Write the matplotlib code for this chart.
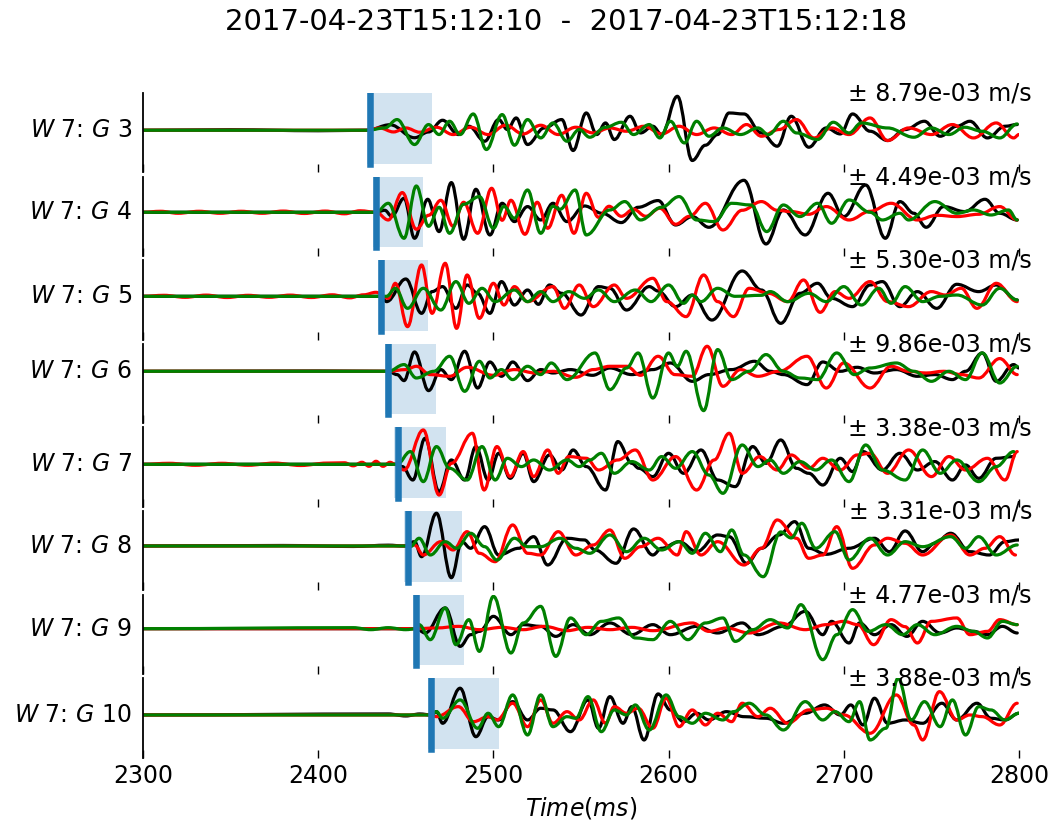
import matplotlib
matplotlib.use("Agg")
import matplotlib.pyplot as plt
from matplotlib.path import Path
from matplotlib.patches import PathPatch
import matplotlib.transforms as mtransforms

title_text = "2017-04-23T15:12:10  -  2017-04-23T15:12:18"
geophones = [3, 4, 5, 6, 7, 8, 9, 10]
scale_labels = ["8.79e-03", "4.49e-03", "5.30e-03", "9.86e-03",
                "3.38e-03", "3.31e-03", "4.77e-03", "3.88e-03"]
pick_times = [2429.6, 2433, 2436, 2440, 2445.5, 2451, 2456, 2464.5]
window_start = [2428, 2431, 2434, 2438, 2443.5, 2449, 2454, 2462.5]
window_end = [2465, 2459.6, 2462.6, 2467.5, 2473, 2482, 2483, 2503]
xticks = [2300, 2400, 2500, 2600, 2700, 2800]

# (time ms, normalised amplitude) extrema
g3_black = [(2300,0),(2350,0.5),(2400,-0.5),(2428,0),(2441,5.5),(2455,-7.5),(2463,-1.7),(2471,10),(2480,-4.3),(2486,4),(2495,-11),(2503,10.7),(2508,0.7),(2513,12.3),(2519.5,-14.3),(2529,2.3),(2539,10.7),(2545.5,-20.3),(2553,17.3),(2559,-4.3),(2564,7.3),(2569,-9.3),(2578,14),(2584,-2.7),(2591,4),(2596,-4.3),(2605,34),(2613.5,-30.3),(2621,-15),(2628,-4.3),(2634.5,17.3),(2643,16.3),(2653,-2.7),(2662,-16),(2670,14),(2680,-17),(2690,2.3),(2698,-3.7),(2705,16.3),(2715,-1),(2725,-10.3),(2735,0.7),(2746,9),(2755,-6),(2764.5,4),(2772,9),(2782,-7.7),(2792,4),(2799,5.7)]
g3_red = [(2300,0),(2428,0),(2435,2.3),(2443,-1.7),(2450,2.3),(2458,-2),(2467.5,3),(2477,-4.3),(2487,3),(2497,-4.3),(2507,5),(2517,-3.7),(2527,5),(2537,-4.3),(2547,3),(2557,-2.7),(2566.5,2.3),(2576,-1),(2586,4),(2596,-3.7),(2606,4),(2616,-4.3),(2626,2.3),(2636,-4.3),(2644.5,5.7),(2653,-6),(2663,0.7),(2673,10.7),(2683,-7.7),(2693,2.3),(2703,-4.3),(2715,12.3),(2725,-10.3),(2737,2.3),(2750,-4.3),(2762,5.7),(2774,-7.7),(2787,7.3),(2797,-7.7),(2800,-4.3)]
g3_green = [(2300,0),(2428,0),(2438,2.3),(2445,10.7),(2455,-14.3),(2463,5.7),(2469,-4.3),(2475,9),(2481,-4.3),(2488.5,16.3),(2496,-19.3),(2505,15.7),(2512,-15),(2519.5,10.7),(2527,-7.7),(2534,7.3),(2542,-11),(2549,0.7),(2555,-7),(2564,3),(2573,8),(2580,-4.3),(2589,5.7),(2595,-7.7),(2601,9),(2609,-12.7),(2616,9),(2623,-6),(2631,2.3),(2641,-4.3),(2651,2.3),(2657,-4.3),(2665.5,9),(2673,-2.7),(2685,-9.3),(2694,8),(2703,-2.7),(2710,7.3),(2725,2.3),(2740,-7),(2750,2.3),(2760,-4.3),(2769,3),(2779,-1),(2789,-7.7),(2799,6.3)]

g4_black = [(2300,0),(2433,0),(2438,2),(2442,-4),(2449,14),(2455,-26),(2462.5,13),(2469,-19.3),(2476,29.7),(2483,-27),(2490,23),(2498,-22.7),(2505,9),(2512,-9.3),(2519.5,5.7),(2527,-7.7),(2534,9),(2542,-9.3),(2552,6.3),(2562,-1),(2573,-10.3),(2582.6,5),(2594,11.7),(2604,-12.7),(2613.5,-4.3),(2623,-15),(2643,32),(2655.6,-31.7),(2665.5,2.3),(2678,-22.7),(2691,19),(2700,-4.3),(2712.5,27.3),(2723.7,-26),(2732,10.7),(2740,-1),(2747,-15),(2757,5.7),(2769,0.7),(2780.6,13),(2789,-1),(2799,-7.7)]
g4_red = [(2300,0),(2310,1),(2320,-1),(2332,1),(2344,-1),(2356,1),(2368,-1),(2380,1.2),(2392,-1.2),(2404,1.2),(2415,-1.5),(2424,1.5),(2433,0),(2440,-7.7),(2448,19.7),(2456,-17),(2463,-3),(2470,12),(2477,-14),(2483,10),(2491,-21),(2499,24),(2505,-8),(2510,12),(2518,-22),(2525,10),(2531,-16),(2539,17),(2546,-21),(2553,19),(2560,-5),(2566,6),(2573,-4),(2580,3),(2587,-4),(2595,4),(2604,-12),(2612,-4),(2621,9),(2631,-17.7),(2642,2),(2653,10.7),(2662,2),(2670,0.7),(2680,-2),(2690,5.7),(2703,-7.7),(2715,1),(2727,9),(2742,-7.7),(2753,-3),(2764.5,-4.3),(2777,-2),(2789,5.7),(2799,-7.7)]
g4_green = [(2300,0),(2433,0),(2440,9),(2449,-26),(2456,26.3),(2463,-14),(2469,5),(2475,-21),(2483,8),(2492,15.7),(2500,-16),(2506,6),(2512,-6),(2519.5,22.3),(2527,-21),(2534,6),(2538,3),(2546.7,22.3),(2553,-22.7),(2566.5,2.3),(2575,10.7),(2584,-7.7),(2596,5),(2606,15.7),(2616,-7.7),(2626,-9.3),(2636,9),(2647,7.3),(2656,-19.3),(2665.5,7.3),(2675,-4.3),(2685,9),(2693,-11),(2703,12.3),(2715,0),(2722,-7.7),(2732,-1),(2737,-7.7),(2752,10.7),(2764.5,-1),(2774,2.3),(2784,-2.7),(2794,2.3),(2799,-7.7)]

g5_black = [(2300,0),(2436,0),(2439,-5.3),(2450,17.3),(2459,-17),(2465,4.7),(2471,9.7),(2478.6,-12),(2485,11.3),(2491,3),(2498,-17),(2504.6,14.7),(2512,-8.7),(2519.5,6.3),(2525.7,-8),(2532,11.3),(2539,3),(2550,-18.7),(2560,9.7),(2566.5,8),(2576,-13.7),(2589,9.7),(2594,5.3),(2604,-10.3),(2613.5,1.3),(2624.7,-23.7),(2642,25.3),(2653,6.3),(2664,-27),(2675,3),(2685,13),(2693,-2),(2705,-10.3),(2715,11.3),(2722,14.7),(2732,-10.3),(2742,4.7),(2753,-12),(2764.5,12),(2777,4.7),(2787,11.3),(2799,-3.7)]
g5_red = [(2300,0),(2312,1),(2324,-1),(2336,1.2),(2348,-1.2),(2360,1),(2372,-1),(2384,1.2),(2396,-1.2),(2408,1.5),(2418,-1.5),(2426,1.5),(2433,4),(2440,-2),(2444,13),(2451,-30.3),(2459,31.3),(2465,-17),(2472.5,33),(2479,-32),(2485,21.3),(2492,-22),(2500,13),(2506,-8.7),(2512,9.7),(2519.5,-5.3),(2534,9.7),(2540.5,-12),(2549,11.3),(2557,-10.3),(2569,11.3),(2576,-2),(2591,18),(2599,-5.3),(2610,-20.3),(2620,21.3),(2628,-5.3),(2637,-20.3),(2646,8),(2657,3),(2668,-5.3),(2677,16.3),(2686.5,-16),(2695,4.7),(2703,-2),(2715,14.7),(2725,-5.3),(2737,-10.3),(2750,4.7),(2758,1.3),(2767,8),(2776,-12),(2787,13),(2799,-5.3)]
g5_green = [(2300,0),(2439,0),(2444,8),(2451,-12),(2460,8),(2470,-13.7),(2478.6,14.7),(2486,-7),(2493.5,8),(2501,-5.3),(2512,6.3),(2519.5,-5.3),(2527,4.7),(2534,-5.3),(2543,4.7),(2552,-2),(2560,6.3),(2569,-5.3),(2581,6.3),(2590,-5.3),(2600,11.3),(2608.6,-7),(2613.5,1),(2618.5,-5.3),(2628,8),(2638,0),(2653,1),(2658,4.7),(2668,-5.3),(2680,3),(2690,-5.3),(2700,9.7),(2710,-8.7),(2720,8),(2727,-7),(2735,9.7),(2745,-5.3),(2755,0),(2764.5,1.3),(2779,-8.7),(2789,8),(2799,-3.7)]

g6_black = [(2300,0),(2400,0.3),(2440,0),(2445,-3.3),(2449,-9.3),(2455,19.3),(2463,-19.3),(2470,1.7),(2476,-8.3),(2483.6,20),(2491,-16.7),(2498,9.3),(2504.6,-5),(2511,9.3),(2519.5,-9.3),(2527,1.7),(2534,-1.7),(2544,1.7),(2556.6,-4),(2566.5,3.3),(2579,-3.3),(2591,1.7),(2601,8.3),(2613.5,-10),(2623,-3.3),(2636,1.7),(2649,10),(2658,0),(2665.5,-3.3),(2679,-13.3),(2688,9.3),(2698,0),(2707.6,4),(2717.5,-1.7),(2730,1.7),(2742,-5),(2752,-3.3),(2762,-8.3),(2769.5,0),(2779,18.3),(2787,-10),(2797,6.7),(2800,3.3)]
g6_red = [(2300,0),(2440,0),(2450,1.7),(2456,5),(2464,-3.3),(2475,-5),(2485,4),(2500,-4),(2512,1.7),(2524,-1.7),(2534,0),(2547,-6),(2557,1.7),(2566.5,5),(2576,5),(2584,-4),(2594,15),(2603.6,-3.3),(2613.5,-5),(2622,25),(2631,-15),(2641,1.7),(2651,-5),(2663,0),(2679,15),(2690,-16.7),(2700,8.3),(2715,-16.7),(2727,5),(2737,0),(2747,-1.7),(2757,0),(2767,-3.3),(2777,-6.7),(2789,12.7),(2799,-3.3)]
g6_green = [(2300,0),(2440,0),(2449,6.7),(2456,-6.7),(2466,0),(2475,15),(2483.6,-20),(2492,10),(2498,-6.7),(2504.6,1.7),(2511,-8.3),(2519.5,5),(2527,-3.3),(2533,8.3),(2542,-8.3),(2558,18.3),(2566.5,-18.3),(2576,3.3),(2582.6,18.3),(2591,-26.7),(2600,18.3),(2605,5),(2610,20),(2620,-39.3),(2628,21.7),(2636,-8.3),(2646,0),(2655.6,16.7),(2665.5,0),(2675,-6.7),(2685,-8.3),(2696,18.3),(2706,-3.3),(2715,3.3),(2730,8.3),(2740,0),(2750,-10),(2760,0),(2769.5,-8.3),(2779,18.3),(2789,-11.7),(2799,5)]

g7_black = [(2300,0),(2445,0),(2448,-2.3),(2454,-15.7),(2461,26),(2469,-27.3),(2476,4.3),(2483.6,-15.7),(2490,17.7),(2497,-15.7),(2503,11),(2509.6,-14),(2517,11),(2523,-17.3),(2532,9.3),(2539,-5.7),(2545.5,14.3),(2553,-2.3),(2564,-25.7),(2571,22.7),(2579,1),(2583,-4),(2591,-12.3),(2600,11),(2608.6,-9),(2618.5,14.3),(2628,-15.7),(2638,-22.3),(2648,17.7),(2655.6,1),(2664,24.3),(2673,-4),(2680,-9),(2688,-20.7),(2698,6),(2705,-7.3),(2711,12.7),(2722,-5.7),(2732,11),(2742,-5.7),(2752,2.7),(2762,-15.7),(2769.5,-0.7),(2777,-14),(2787,6),(2797,7.7)]
g7_red = [(2300,0),(2315,1),(2330,-1),(2345,1),(2360,-1),(2375,1.2),(2390,-1.2),(2405,1.2),(2415,1.5),(2420,-1.5),(2425,2),(2429,-2),(2433,3),(2437,-2),(2441,2),(2444,0),(2449,-5.7),(2460,34.3),(2469,-30.7),(2476,1),(2488,31),(2494.7,-25.7),(2502,17.7),(2509.6,-12.3),(2517,12.7),(2523,-12.3),(2531,14.3),(2537,-9),(2543,7.7),(2553,6),(2560,-5.7),(2571,4.3),(2581,14.3),(2591,-15.7),(2604,7.7),(2616,-25.7),(2626,4.3),(2634.6,31),(2642,-9),(2652,7.7),(2662,-5.7),(2670,9.3),(2680,-4),(2688,6),(2698,-5.7),(2707.6,9.3),(2715,11),(2725,-9),(2737,14.3),(2750,-12.3),(2760,7.7),(2769.5,-5.7),(2782,6),(2792,-15.7),(2799,12.7)]
g7_green = [(2300,0),(2445,0),(2452.6,12.7),(2460,-17.3),(2467.5,17.7),(2475,-4),(2485,-15.7),(2493.5,17.7),(2501,-15.7),(2508,6),(2516,-2.3),(2523,4.3),(2532,-5.7),(2542,4.3),(2549,-2.3),(2555,4.3),(2561.6,11),(2569,-9),(2579,2.7),(2589,-5.7),(2596,7.7),(2604,-4),(2613.5,12.7),(2623,-10.7),(2631,-29),(2642,19.3),(2651,-2.3),(2658,4.3),(2665.5,-9),(2675,2.7),(2684,-5.7),(2693,4.3),(2703,-17.3),(2712.5,19.3),(2722,-5.7),(2735,-15.7),(2745,14.3),(2755,-9),(2764.5,4.3),(2777,-17.3),(2787,-2.3),(2797,12.7)]

g8_black = [(2300,0),(2380,0.5),(2420,-0.5),(2440,0.8),(2449,0),(2455,4.3),(2459,-10.7),(2467.5,32.7),(2476,-31.7),(2482,4.3),(2487,-2.3),(2495,19.3),(2503,-9),(2514.5,-2.3),(2523,9.3),(2531,-19),(2542,7.7),(2552,6),(2558,-4),(2570,-17.3),(2580,17),(2591,-9),(2596,-2.3),(2606,4.3),(2616,-5.7),(2628,11),(2634.6,9.3),(2644.5,-17.3),(2653,-2.3),(2663,11),(2672,24.3),(2680,-2.3),(2690,-8.3),(2703,-2.3),(2717.5,7.7),(2726,-5.7),(2735,15),(2745,-5.7),(2752,2.7),(2761,12.7),(2772,-5.7),(2783,-9),(2792,4.3),(2800,6)]
g8_red = [(2300,0),(2449,0),(2455,1),(2460,-9),(2470,4.3),(2477,-4),(2485,14.3),(2492,-7.3),(2501,-15.7),(2511,21),(2519.5,-7.3),(2527,-9),(2537,14.3),(2547,-9),(2557,1),(2566.5,16),(2575,-12.3),(2584,-0.7),(2594,7.7),(2605,-9),(2610,14.3),(2618.5,-9),(2628,4.3),(2643,-19),(2653,-2.3),(2662,26),(2673,7.7),(2680,-12.3),(2688,-9),(2696,19.3),(2705,-22.3),(2717.5,1),(2725,7.7),(2735,2.7),(2745,-9),(2761,11),(2772,-9),(2780.6,-2.3),(2789,9.3),(2798,-9)]
g8_green = [(2300,0),(2449,0),(2452.6,-0.7),(2457.6,7.7),(2464,-9),(2472.5,4.3),(2479,-2.3),(2487,12.7),(2495,-0.7),(2502,-14),(2512,7.7),(2519.5,-0.7),(2527,-0.7),(2538,7.7),(2547,-2.3),(2555,-7.3),(2566.5,11),(2576,-5.7),(2586,7.7),(2596,-4),(2606,4.3),(2613.5,-7.3),(2621,12.7),(2629.6,-5.7),(2636,16),(2643,-9),(2654,-30.7),(2664,14),(2670,8),(2676,22.7),(2684,-2.3),(2695,14.3),(2703,-14),(2715,7.7),(2725,-9),(2735,4.3),(2745,-0.7),(2761,9.3),(2769.5,-2.3),(2777,9.3),(2787,-9),(2799,1)]

g9_black = [(2300,0),(2456,0),(2461,-4.3),(2472.5,20.7),(2481,-17.7),(2487,-6),(2492,-2.7),(2500,12.3),(2510,-6),(2517,4),(2527,2.3),(2535.6,-7.7),(2545.5,4),(2555,-6),(2566.5,5.7),(2579,-6),(2591,4),(2601,-6),(2616,2.3),(2628,-4.3),(2642,5.7),(2651,-6),(2665.5,2.3),(2678,17.3),(2688,-6),(2693,7.3),(2703,-14.3),(2709,5.7),(2717.5,-6),(2727,4),(2736,-7.7),(2745,7.3),(2755,-4.3),(2764.5,0.7),(2774,-2.7),(2782,-6),(2790.5,2.3),(2799,-4.3)]
g9_red = [(2300,0),(2456,0),(2467.5,0.7),(2480,2.3),(2492,-1),(2505,1.3),(2517,-1),(2529,2.3),(2542,-2),(2554,1.3),(2566.5,-1),(2579,1.3),(2591,-2),(2613.5,5.7),(2623,-2.7),(2633,0.7),(2646,-4.3),(2663,5.7),(2678,-1),(2690,4),(2700,7.3),(2708,4),(2717,-16),(2727,9),(2735,2),(2742,-14.3),(2750,7.3),(2764.5,10.7),(2772,-6),(2782,-2.7),(2789,9),(2799,4)]
g9_green = [(2300,0),(2420,1),(2430,-1),(2440,1),(2450,-1),(2456,0),(2457.6,4),(2464,-11),(2472.5,20.7),(2478.6,-16),(2486,9),(2492,-22.7),(2500,32.3),(2510,-24.3),(2517,5.7),(2527,22.3),(2535.6,-27.7),(2544,10.7),(2553,-6),(2561.6,7.3),(2571.5,10.7),(2581,-9.3),(2591,-11),(2601,7.3),(2611,-11),(2621,5.7),(2631,10.7),(2638,-12.7),(2648,-1),(2658,9),(2668,0.7),(2675.5,24),(2688,-31),(2696,-6),(2705,19),(2714,-2.7),(2724,4),(2733.6,-6),(2742,4),(2752,-6),(2764.5,2.3),(2774,-2.7),(2782,-9.3),(2790.5,7.3),(2799,4)]

g10_black = [(2300,0),(2440,1),(2450,-1),(2458,1),(2464.5,0),(2467.5,3.3),(2471,-8.3),(2481,26.7),(2490,-21.7),(2497,-1.7),(2503,-5),(2511,13.3),(2519.5,-5),(2527,6.7),(2534,5),(2544,-16.7),(2554,15),(2560,-13.3),(2566.5,18.3),(2574,-8.3),(2579,8.3),(2586,-25),(2594,21),(2601,5),(2608.6,-6.7),(2616,1.7),(2623,-5),(2633,3.3),(2643,-1.7),(2655.6,-3.3),(2665.5,-8.3),(2678,1.7),(2689,10),(2698,0),(2704,10),(2711,-10),(2717.5,16.7),(2725,-8.3),(2735,-5),(2745,-8.3),(2756,11.7),(2764.5,-5),(2776,11.7),(2784,-3.3),(2792,-5),(2800,1.7)]
g10_red = [(2300,0),(2464.5,0),(2467.5,-1.7),(2480,8.3),(2488.6,-6.7),(2497,-1.7),(2502,-5),(2511,11.7),(2519.5,-11.7),(2527,15),(2534,-8.3),(2542,3.3),(2549,-5),(2557,15),(2564,-8.3),(2569,8.3),(2576,1.7),(2582.6,6.7),(2591,-13.3),(2598.6,16.7),(2606,-11.7),(2613.5,5),(2621,-10),(2628,1.7),(2636,-6.7),(2642,11.7),(2651,-1.7),(2658,6.7),(2668,-8.3),(2680,5),(2690,6.7),(2700,0),(2715,-18.3),(2730,20),(2740,-10),(2745,-25),(2754.6,23.3),(2764.5,-5),(2772,0),(2779,-1.7),(2789,-10),(2799,11.7)]
g10_green = [(2300,0),(2464.5,0),(2467.5,3.3),(2471,-3.3),(2481,15),(2491,-13.3),(2497,1.7),(2503,-11.7),(2511,20),(2519.5,-20),(2527,20),(2534,-11.7),(2542,-1.7),(2547,-3.3),(2554,18.3),(2561.6,-16.7),(2569,5),(2576,0),(2581,10),(2589,-15),(2598.6,20),(2606,-1.7),(2613.5,-8.3),(2621,1.7),(2631,-5),(2637,3.3),(2646,11.7),(2655.6,0),(2665.5,-15),(2678,13.3),(2688,-5),(2695,3.3),(2703,-6.7),(2709,13.3),(2715,-25),(2724,-13.3),(2731,36.7),(2738.5,-5),(2746,13.3),(2755,-11.7),(2762,15),(2769.5,-20),(2777,8.3),(2784,5),(2792,-5),(2800,1.7)]

traces = [
    (g3_black, g3_red, g3_green), (g4_black, g4_red, g4_green),
    (g5_black, g5_red, g5_green), (g6_black, g6_red, g6_green),
    (g7_black, g7_red, g7_green), (g8_black, g8_red, g8_green),
    (g9_black, g9_red, g9_green), (g10_black, g10_red, g10_green),
]
y_limits = [(-42.2, 37.3), (-43.7, 35.7), (-43.2, 36.1), (-51.8, 27.5),
            (-42.4, 36.9), (-44.3, 35.0), (-45.2, 34.1), (-42.5, 36.8)]
colors = ["black", "red", "green"]


def smooth_path(pairs, k=0.38):
    verts = [pairs[0]]
    codes = [Path.MOVETO]
    for (t0, v0), (t1, v1) in zip(pairs[:-1], pairs[1:]):
        d = t1 - t0
        verts += [(t0 + k * d, v0), (t1 - k * d, v1), (t1, v1)]
        codes += [Path.CURVE4] * 3
    return Path(verts, codes)


fig, axes = plt.subplots(8, 1, sharex=True, figsize=(10.54, 8.25), dpi=100)
fig.subplots_adjust(left=143 / 1054, right=1019 / 1054, top=1 - 93 / 825,
                    bottom=1 - 757.5 / 825, hspace=0.053)

for i, ax in enumerate(axes):
    ax.axvspan(window_start[i], window_end[i], ymin=0.11, ymax=1.0,
               color="#1f77b4", alpha=0.2, lw=0, zorder=1)
    for pairs, col in zip(traces[i], colors):
        ax.add_patch(PathPatch(smooth_path(pairs), fill=False, edgecolor=col,
                               lw=2.3, capstyle="round", joinstyle="round",
                               zorder=2))
    ax.axvline(pick_times[i], ymin=0.11, ymax=1.0, color="#1f77b4", lw=4.7,
               zorder=5)
    ax.set_xlim(2300, 2800)
    ax.set_ylim(*y_limits[i])
    for side in ("top", "right", "bottom"):
        ax.spines[side].set_visible(False)
    ax.spines["left"].set_linewidth(1.3)
    ax.set_yticks([])
    ax.set_xticks(xticks)
    ax.tick_params(axis="x", direction="in", length=6, width=1, pad=5,
                   labelsize=17)
    trans = mtransforms.blended_transform_factory(ax.transAxes, ax.transData)
    ax.text(-0.0126, 0, f"$W$ 7: $G$ {geophones[i]}", transform=trans,
            ha="right", va="center", fontsize=17)
    ax.text(1.0148, 0.99, "\u00b1 " + scale_labels[i] + " m/s",
            transform=ax.transAxes, ha="right", va="center", fontsize=17)

axes[-1].set_xlabel("$Time(ms)$", fontsize=17, labelpad=5)
fig.text(0.537, 0.973, title_text, ha="center", va="center", fontsize=21)

fig.savefig("out.png", dpi=100)
